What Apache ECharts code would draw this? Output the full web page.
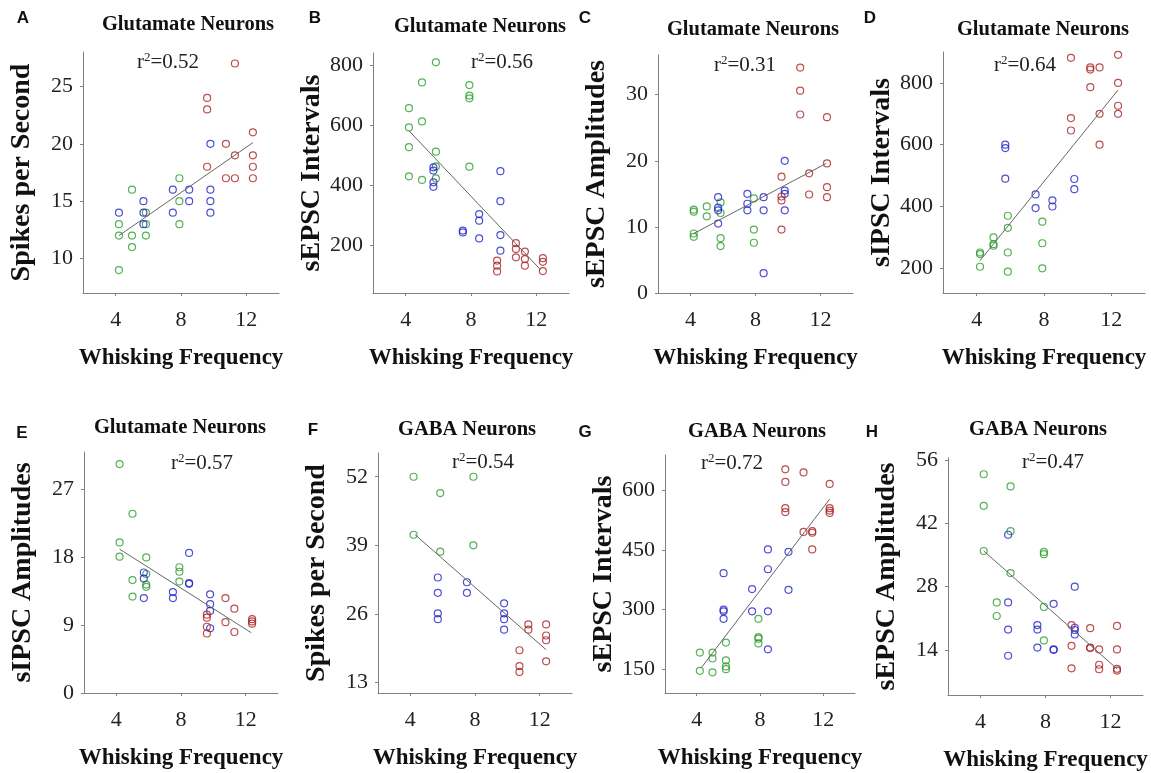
<!DOCTYPE html>
<html>
<head>
<meta charset="utf-8">
<script src="https://cdn.jsdelivr.net/npm/echarts@6/dist/echarts.min.js"></script>
<style>
html, body { margin: 0; padding: 0; background: #fff; }
#chart { width: 1151px; height: 773px; }
</style>
</head>
<body>
<div id="chart"></div>
<script>
// whisking frequency ticks (shared by all panels)
const xTicks = [4, 8, 12];

// A - Glutamate, spikes per second
const aTicks = [10, 15, 20, 25];
const aGreen = [[4.2,9],[4.2,12],[4.2,13],[5.0,16],[5.0,12],[5.0,11],[5.85,14],[5.85,13],[5.85,12],[7.9,17],[7.9,15],[7.9,13]];
const aBlue = [[4.2,14],[5.7,15],[5.7,14],[5.7,13],[7.5,16],[7.5,14],[8.5,16],[8.5,15],[9.8,20],[9.8,16],[9.8,15],[9.8,14]];
const aRed = [[9.6,24],[9.6,23],[9.6,18],[10.75,20],[10.75,17],[11.3,27],[11.3,19],[11.3,17],[12.4,21],[12.4,19],[12.4,18],[12.4,17]];
const aFit = [[4.2,12],[12.4,20.1]];

// B - Glutamate, sEPSC intervals
const bTicks = [200, 400, 600, 800];
const bGreen = [[5.85,809],[5.0,742],[4.2,656],[4.2,592],[5.0,612],[4.2,526],[5.85,511],[5.85,462],[5.85,422],[4.2,429],[5.0,417],[7.9,733],[7.9,698],[7.9,689],[7.9,461]];
const bBlue = [[5.7,459],[5.7,448],[5.7,409],[5.7,394],[7.5,248],[7.5,242],[8.5,303],[8.5,281],[8.5,222],[9.8,446],[9.8,346],[9.8,233],[9.8,181]];
const bRed = [[9.6,148],[9.6,131],[9.6,112],[10.75,206],[10.75,187],[10.75,159],[11.3,178],[11.3,153],[11.3,131],[12.4,156],[12.4,144],[12.4,113]];
const bFit = [[4.2,581],[12.25,118]];

// C - Glutamate, sEPSC amplitudes
const cTicks = [0, 10, 20, 30];
const cGreen = [[4.2,12.6],[4.2,12.3],[4.2,9.0],[4.2,8.5],[5.0,13.1],[5.0,11.6],[5.85,13.7],[5.85,12.1],[5.85,8.3],[5.85,7.1],[7.9,14.3],[7.9,9.6],[7.9,7.6]];
const cBlue = [[5.7,14.5],[5.7,12.9],[5.7,12.5],[5.7,10.5],[7.5,15.0],[7.5,13.5],[7.5,12.5],[8.5,14.5],[8.5,12.5],[8.5,3.0],[9.8,20.0],[9.8,15.5],[9.8,15.0],[9.8,12.5]];
const cRed = [[10.75,34.1],[10.75,30.6],[10.75,27.0],[9.6,17.6],[9.6,14.6],[9.6,14.0],[9.6,9.6],[11.3,18.1],[11.3,14.9],[12.4,26.6],[12.4,19.6],[12.4,16.0],[12.4,14.5]];
const cFit = [[4.2,9.0],[12.35,19.6]];

// D - Glutamate, sIPSC intervals
const dTicks = [200, 400, 600, 800];
const dGreen = [[4.2,251],[4.2,246],[4.2,205],[5.0,300],[5.0,278],[5.0,273],[5.85,370],[5.85,331],[5.85,251],[5.85,189],[7.9,351],[7.9,281],[7.9,200]];
const dBlue = [[5.7,600],[5.7,589],[5.7,490],[7.5,439],[7.5,395],[8.5,420],[8.5,400],[9.8,489],[9.8,456]];
const dRed = [[9.6,881],[9.6,686],[9.6,646],[10.75,850],[10.75,843],[10.75,786],[11.3,850],[11.3,700],[11.3,600],[12.4,891],[12.4,800],[12.4,726],[12.4,700]];
const dFit = [[4.2,225],[12.4,777]];

// E - Glutamate, sIPSC amplitudes
const eTicks = [0, 9, 18, 27];
const eGreen = [[4.2,30.4],[4.2,20.0],[4.2,18.1],[5.0,23.8],[5.0,15.0],[5.0,12.8],[5.85,18.0],[5.85,15.8],[5.85,14.4],[5.85,14.1],[7.9,16.7],[7.9,16.1],[7.9,14.8]];
const eBlue = [[5.7,16.0],[5.7,15.2],[5.7,12.6],[7.5,13.4],[7.5,12.6],[8.5,18.6],[8.5,14.6],[8.5,14.5],[9.8,13.1],[9.8,11.8],[9.8,10.9],[9.8,8.6]];
const eRed = [[9.6,10.4],[9.6,10.0],[9.6,8.8],[9.6,7.9],[10.75,12.6],[10.75,9.4],[11.3,11.2],[11.3,8.1],[12.4,9.8],[12.4,9.5],[12.4,9.2]];
const eFit = [[4.2,19.1],[12.35,8.0]];

// F - GABA, spikes per second
const fTicks = [13, 26, 39, 52];
const fGreen = [[4.2,52],[4.2,41],[5.85,48.9],[5.85,37.8],[7.9,52],[7.9,39]];
const fBlue = [[5.7,32.9],[5.7,30],[5.7,26.1],[5.7,25],[7.5,32],[7.5,30],[9.8,28],[9.8,26.1],[9.8,25],[9.8,23]];
const fRed = [[10.75,19.1],[10.75,16.1],[10.75,15],[11.3,24],[11.3,23],[12.4,24],[12.4,21.9],[12.4,21],[12.4,17]];
const fFit = [[4.3,41],[12.4,19.2]];

// G - GABA, sEPSC intervals
const gTicks = [150, 300, 450, 600];
const gGreen = [[4.2,192],[4.2,146],[5.0,192],[5.0,177],[5.0,142],[5.85,217],[5.85,172],[5.85,157],[5.85,150],[7.9,277],[7.9,231],[7.9,227],[7.9,215]];
const gBlue = [[5.7,392],[5.7,300],[5.7,296],[5.7,277],[7.5,352],[7.5,296],[8.5,452],[8.5,402],[8.5,296],[8.5,200],[9.8,446],[9.8,350]];
const gRed = [[9.6,654],[9.6,622],[9.6,556],[9.6,546],[10.75,646],[10.75,496],[11.3,498],[11.3,494],[11.3,452],[12.4,617],[12.4,556],[12.4,550],[12.4,544]];
const gFit = [[4.3,154],[12.4,579]];

// H - GABA, sEPSC amplitudes
const hTicks = [14, 28, 42, 56];
const hGreen = [[4.2,52.9],[4.2,45.9],[4.2,35.9],[5.85,50.2],[5.85,40.3],[5.85,31.0],[5.0,24.5],[5.0,21.5],[7.9,35.7],[7.9,35.2],[7.9,23.5],[7.9,16.1]];
const hBlue = [[5.7,39.5],[5.7,24.5],[5.7,18.5],[5.7,12.7],[7.5,19.5],[7.5,18.5],[7.5,14.5],[8.5,24.2],[8.5,14.1],[8.5,14.0],[9.8,28.0],[9.8,18.9],[9.8,18.4],[9.8,17.4]];
const hRed = [[9.6,19.5],[9.6,14.9],[9.6,9.9],[10.75,18.8],[10.75,14.5],[10.75,14.4],[11.3,14.1],[11.3,10.7],[11.3,9.7],[12.4,19.3],[12.4,14.1],[12.4,9.8],[12.4,9.4]];
const hFit = [[4.2,35.9],[12.4,9.8]];

const SERIF = "'Liberation Serif', 'Times New Roman', serif";
const SANS = "'Liberation Sans', Arial, sans-serif";
const GREEN = "#2a9e2a", BLUE = "#2222cc", RED = "#aa2222";

// panel layout: grid box, axis ranges, label positions
const panels = [
  { letter: "A", title: "Glutamate Neurons", r2: "0.52", yName: "Spikes per Second",
    grid: { left: 83, top: 52, width: 196, height: 241 }, yMin: 7, yMax: 28, ticks: aTicks,
    titlePos: [188, 25], r2Pos: [168, 62], letterPos: [23, 18], green: aGreen, blue: aBlue, red: aRed, fit: aFit },
  { letter: "B", title: "Glutamate Neurons", r2: "0.56", yName: "sEPSC Intervals",
    grid: { left: 373, top: 53, width: 196, height: 240 }, yMin: 40, yMax: 840, ticks: bTicks,
    titlePos: [480, 27], r2Pos: [502, 62], letterPos: [315, 18], green: bGreen, blue: bBlue, red: bRed, fit: bFit },
  { letter: "C", title: "Glutamate Neurons", r2: "0.31", yName: "sEPSC Amplitudes",
    grid: { left: 658, top: 55, width: 195, height: 238 }, yMin: 0, yMax: 36, ticks: cTicks,
    titlePos: [753, 30], r2Pos: [745, 65], letterPos: [585, 18], green: cGreen, blue: cBlue, red: cRed, fit: cFit },
  { letter: "D", title: "Glutamate Neurons", r2: "0.64", yName: "sIPSC Intervals",
    grid: { left: 943, top: 52, width: 202, height: 241 }, yMin: 120, yMax: 900, ticks: dTicks,
    titlePos: [1043, 30], r2Pos: [1025, 65], letterPos: [870, 18], green: dGreen, blue: dBlue, red: dRed, fit: dFit },
  { letter: "E", title: "Glutamate Neurons", r2: "0.57", yName: "sIPSC Amplitudes",
    grid: { left: 84, top: 452, width: 194, height: 241 }, yMin: 0, yMax: 32, ticks: eTicks,
    titlePos: [180, 428], r2Pos: [202, 463], letterPos: [22, 433], green: eGreen, blue: eBlue, red: eRed, fit: eFit },
  { letter: "F", title: "GABA Neurons", r2: "0.54", yName: "Spikes per Second",
    grid: { left: 378, top: 453, width: 194, height: 240 }, yMin: 11, yMax: 56.5, ticks: fTicks,
    titlePos: [467, 430], r2Pos: [483, 462], letterPos: [313, 430], green: fGreen, blue: fBlue, red: fRed, fit: fFit },
  { letter: "G", title: "GABA Neurons", r2: "0.72", yName: "sEPSC Intervals",
    grid: { left: 665, top: 455, width: 190, height: 238 }, yMin: 90, yMax: 690, ticks: gTicks,
    titlePos: [757, 432], r2Pos: [732, 463], letterPos: [585, 432], green: gGreen, blue: gBlue, red: gRed, fit: gFit },
  { letter: "H", title: "GABA Neurons", r2: "0.47", yName: "sEPSC Amplitudes",
    grid: { left: 948, top: 458, width: 195, height: 238 }, yMin: 4, yMax: 56.5, ticks: hTicks,
    titlePos: [1038, 430], r2Pos: [1053, 462], letterPos: [872, 432], green: hGreen, blue: hBlue, red: hRed, fit: hFit },
];

const axisLineStyle = { color: "#808080", width: 1 };

const grid = [], xAxis = [], yAxis = [], series = [], graphic = [];

panels.forEach((p, i) => {
  grid.push(p.grid);
  xAxis.push({
    gridIndex: i, type: "value", min: 2, max: 14,
    axisLine: { show: true, onZero: false, lineStyle: axisLineStyle },
    axisTick: { show: true, length: 3, customValues: xTicks, lineStyle: axisLineStyle },
    axisLabel: { customValues: xTicks, fontFamily: SERIF, fontSize: 22, color: "#222", margin: 16 },
    splitLine: { show: false },
    name: "Whisking Frequency", nameLocation: "middle", nameGap: 54,
    nameTextStyle: { fontFamily: SERIF, fontWeight: "bold", fontSize: 23, color: "#111" },
  });
  yAxis.push({
    gridIndex: i, type: "value", min: p.yMin, max: p.yMax,
    axisLine: { show: true, onZero: false, lineStyle: axisLineStyle },
    axisTick: { show: true, length: 3, customValues: p.ticks, lineStyle: axisLineStyle },
    axisLabel: { customValues: p.ticks, fontFamily: SERIF, fontSize: 22, color: "#222", margin: 10 },
    splitLine: { show: false },
    name: p.yName, nameLocation: "middle", nameGap: 47,
    nameTextStyle: { fontFamily: SERIF, fontWeight: "bold", fontSize: 28, color: "#111" },
  });
  [[p.green, GREEN], [p.blue, BLUE], [p.red, RED]].forEach(([data, color]) => {
    series.push({
      type: "scatter", xAxisIndex: i, yAxisIndex: i, data: data,
      symbol: "circle", symbolSize: 7,
      itemStyle: { color: "rgba(0,0,0,0)", borderColor: color, borderWidth: 1.2 },
    });
  });
  series.push({
    type: "line", xAxisIndex: i, yAxisIndex: i, data: p.fit,
    symbol: "none", lineStyle: { color: "#666", width: 1 },
  });
  graphic.push({
    type: "text", x: p.titlePos[0], y: p.titlePos[1],
    style: { text: p.title, font: "bold 20.5px " + SERIF, fill: "#111", align: "center", verticalAlign: "middle" },
  });
  graphic.push({
    type: "text", x: p.letterPos[0], y: p.letterPos[1],
    style: { text: p.letter, font: "bold 17px " + SANS, fill: "#111", align: "center", verticalAlign: "middle" },
  });
  graphic.push({
    type: "text", x: p.r2Pos[0], y: p.r2Pos[1],
    style: {
      text: "{a|r}{s|2}{a|=" + p.r2 + "}", align: "center", verticalAlign: "middle",
      rich: {
        a: { fontFamily: SERIF, fontSize: 21, fill: "#222", lineHeight: 22 },
        s: { fontFamily: SERIF, fontSize: 13, fill: "#222", verticalAlign: "top", lineHeight: 22 },
      },
    },
  });
});

const myEcharts = echarts.init(document.getElementById("chart"));
myEcharts.setOption({
  backgroundColor: "#fff",
  animation: false,
  grid: grid,
  xAxis: xAxis,
  yAxis: yAxis,
  series: series,
  graphic: graphic,
});
</script>
</body>
</html>
